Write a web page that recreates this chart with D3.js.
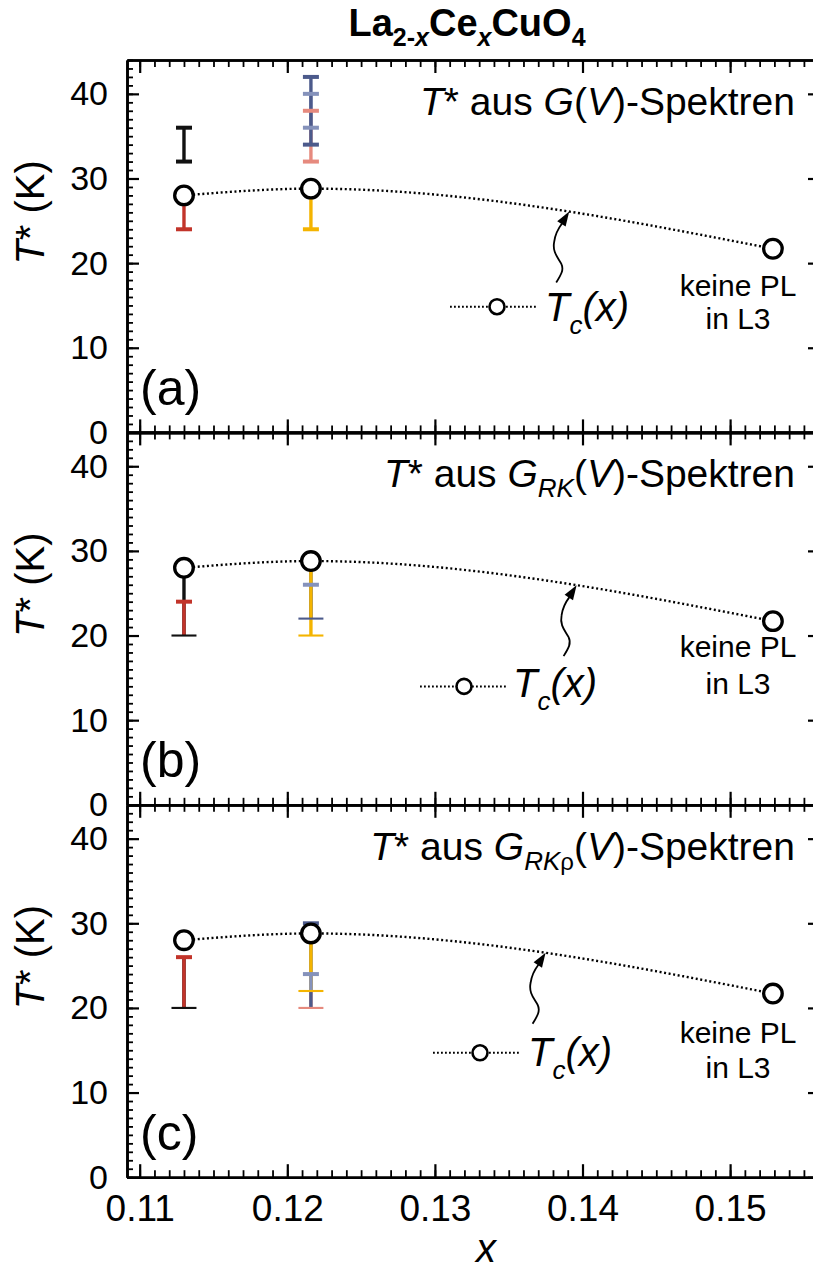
<!DOCTYPE html>
<html>
<head>
<meta charset="utf-8">
<script src="https://cdn.jsdelivr.net/npm/d3@7"></script>
<style>
  body { margin: 0; background: #fff; }
  svg { display: block; }
  text { font-family: "Liberation Sans", Arial, Helvetica, sans-serif; fill: #000; }
</style>
</head>
<body>
<svg id="chart" width="813" height="1272"></svg>
<script>
// ---- data ----
const dopings  = [0.113, 0.1216, 0.1529];   // Ce content x of the three films
const tcValues = [28.0, 28.8, 21.7];        // Tc (K)
const yTickValues = [0, 10, 20, 30, 40];
const xTickValues = [0.11, 0.12, 0.13, 0.14, 0.15];
const xTickLabels = ["0.11", "0.12", "0.13", "0.14", "0.15"];
const panelLetters = ["(a)", "(b)", "(c)"];

// T* ranges: [x, lower T*, upper T*, series, capped end]
const rangesA = [
  [0.113,  32, 36,   "black",     "both"],
  [0.113,  24, 28.0, "red",       "lo"],
  [0.1216, 24, 28.8, "yellow",    "lo"],
  [0.1216, 32, 38,   "salmon",    "both"],
  [0.1216, 36, 40,   "lightblue", "both"],
  [0.1216, 34, 42,   "darkblue",  "both"]
];
const rangesB = [
  [0.113,  20, 28.0, "black",     "lo"],
  [0.113,  20, 24,   "red",       "hi"],
  [0.1216, 22, 26,   "lightblue", "hi"],
  [0.1216, 22, 28.8, "darkblue",  "lo"],
  [0.1216, 20, 28.8, "yellow",    "lo"]
];
const rangesC = [
  [0.113,  20, 26,   "black",     "lo"],
  [0.113,  20, 26,   "red",       "hi"],
  [0.1216, 20, 22,   "salmon",    "lo"],
  [0.1216, 20, 30,   "darkblue",  "hi"],
  [0.1216, 22, 28.7, "yellow",    "lo"],
  [0.1216, 22, 24,   "lightblue", "hi"]
];
const panelRanges = [rangesA, rangesB, rangesC];

// ---- styling ----
const seriesColor = {
  black: "#111111", red: "#c2342a", yellow: "#f4b400",
  darkblue: "#4c5a8b", lightblue: "#8592bb", salmon: "#e68a7e"
};
const FONT = '"Liberation Sans", Arial, Helvetica, sans-serif';

const svg = d3.select("#chart");
const plotLeft = 127, plotRight = 820;
const firstTop = 60, panelH = 372.4;

const x = d3.scaleLinear().domain([0.10914, 0.15609]).range([plotLeft, plotRight]);
const xMinor = d3.range(109, 157).map(v => v / 1000).filter(v => x(v) >= plotLeft - 0.5 && x(v) <= plotRight + 0.5);
const yMinor = d3.range(0, 45, 1);

// per-panel annotation layout (offsets from panel top, pixels)
const layout = [
  { legY: 246.7, legX1: 450, legX2: 537, legCx: 497, legTx: 545, legTy: 260.7, arrowX: 0.1391, kY1: 236, kY2: 269 },
  { legY: 254,   legX1: 420, legX2: 507, legCx: 464, legTx: 513, legTy: 264.7, arrowX: 0.1396, kY1: 224.7, kY2: 261.3 },
  { legY: 248,   legX1: 433, legX2: 520, legCx: 480, legTx: 528, legTy: 261,   arrowX: 0.1375, kY1: 238, kY2: 273 }
];
const subscripts = [[], [["RK", true]], [["RK", true], ["ρ", false]]];

function styleAxis(g, sw) {
  g.selectAll("path.domain").attr("stroke", "#000").attr("stroke-width", 2.6);
  g.selectAll(".tick line").attr("stroke", "#000").attr("stroke-width", sw || 2);
  g.selectAll("text").attr("font-family", FONT);
}

panelRanges.forEach((ranges, i) => {
  const top = firstTop + i * panelH;
  const bottom = top + panelH;
  const y = d3.scaleLinear().domain([0, 44]).range([bottom, top]);
  const g = svg.append("g").attr("class", "panel-" + i);
  const L = layout[i];

  // axes: left (labels), right, top, bottom
  g.append("g").attr("transform", `translate(${plotLeft},0)`)
    .call(d3.axisLeft(y).tickValues(yMinor).tickSize(-6).tickSizeOuter(0).tickFormat(""))
    .call(a => styleAxis(a, 1.8));
  g.append("g").attr("transform", `translate(${plotLeft},0)`)
    .call(d3.axisLeft(y).tickValues(yTickValues).tickSize(-12).tickSizeOuter(0).tickPadding(19).tickFormat(d3.format("d")))
    .call(a => { styleAxis(a, 2.2); a.selectAll("text").attr("font-size", 34); });
  g.append("g").attr("transform", `translate(${plotRight},0)`)
    .call(d3.axisRight(y).tickValues(yTickValues).tickSize(-12).tickSizeOuter(0).tickFormat(""))
    .call(a => styleAxis(a, 2.2));

  [[top, d3.axisTop], [bottom, d3.axisBottom]].forEach(([yy, ax]) => {
    g.append("g").attr("transform", `translate(0,${yy})`)
      .call(ax(x).tickValues(xMinor).tickSize(-7).tickSizeOuter(0).tickFormat(""))
      .call(a => styleAxis(a, 1.8));
    g.append("g").attr("transform", `translate(0,${yy})`)
      .call(ax(x).tickValues(xTickValues).tickSize(-13).tickSizeOuter(0).tickPadding(18)
        .tickFormat((d, k) => (i === 2 && ax === d3.axisBottom) ? xTickLabels[k] : ""))
      .call(a => { styleAxis(a, 2.2); a.selectAll("text").attr("font-size", 37); });
  });

  // T* ranges: vertical bars first, then end caps
  const bars = g.append("g");
  ranges.forEach(([xv, lo, hi, s]) => {
    bars.append("line")
      .attr("x1", x(xv)).attr("x2", x(xv)).attr("y1", y(lo)).attr("y2", y(hi))
      .attr("stroke", seriesColor[s]).attr("stroke-width", 3.4);
  });
  ranges.forEach(([xv, lo, hi, s, capped]) => {
    const ends = capped === "both" ? [["lo", lo], ["hi", hi]] : capped === "lo" ? [["lo", lo]] : [["hi", hi]];
    ends.forEach(([end, v]) => {
      const wide = i > 0 && end === "lo";
      const w = wide ? 25 : 16;
      bars.append("line")
        .attr("x1", x(xv) - w / 2).attr("x2", x(xv) + w / 2).attr("y1", y(v)).attr("y2", y(v))
        .attr("stroke", seriesColor[s]).attr("stroke-width", wide ? 2.1 : 4);
    });
  });

  // Tc(x) curve and points
  const pts = dopings.map((d, k) => [d, tcValues[k]]);
  const curve = g.append("path")
    .attr("d", d3.line().x(d => x(d[0])).y(d => y(d[1])).curve(d3.curveMonotoneX)(pts))
    .attr("fill", "none").attr("stroke", "#000").attr("stroke-width", 2.4)
    .attr("stroke-dasharray", "2 2.6");
  g.selectAll("circle.tc").data(pts).join("circle").attr("class", "tc")
    .attr("cx", d => x(d[0])).attr("cy", d => y(d[1])).attr("r", 9.3)
    .attr("fill", "#fff").attr("stroke", "#000").attr("stroke-width", 3.3);

  // arrow pointing at the Tc curve
  const node = curve.node();
  const total = node.getTotalLength();
  const tx = x(L.arrowX);
  let a0 = 0, a1 = total;
  for (let k = 0; k < 40; k++) {
    const m = (a0 + a1) / 2;
    if (node.getPointAtLength(m).x < tx) a0 = m; else a1 = m;
  }
  const tip = node.getPointAtLength((a0 + a1) / 2);
  const arrow = g.append("g").attr("transform", `translate(${tip.x},${tip.y})`);
  arrow.append("path")
    .attr("d", "M-13,71 C-8,63 -5,58 -8,52 C-12,45 -17,40 -15,30 C-14,23 -11,17 -7.2,12")
    .attr("fill", "none").attr("stroke", "#000").attr("stroke-width", 1.8);
  arrow.append("path").attr("d", "M0,0 L-3.6,15 L-12,9.6 Z").attr("fill", "#000");

  // legend entry Tc(x)
  g.append("line").attr("x1", L.legX1).attr("x2", L.legX2)
    .attr("y1", top + L.legY).attr("y2", top + L.legY)
    .attr("stroke", "#000").attr("stroke-width", 2).attr("stroke-dasharray", "1.8 2.2");
  g.append("circle").attr("cx", L.legCx).attr("cy", top + L.legY).attr("r", 7.5)
    .attr("fill", "#fff").attr("stroke", "#000").attr("stroke-width", 2.6);
  const lt = g.append("text").attr("x", L.legTx).attr("y", top + L.legTy)
    .attr("font-size", 40).attr("font-style", "italic");
  lt.append("tspan").text("T");
  lt.append("tspan").attr("font-size", 26).attr("dy", 13).text("c");
  lt.append("tspan").attr("dy", -13).text("(x)");

  // "keine PL in L3" note beside the last point
  [["keine PL", L.kY1], ["in L3", L.kY2]].forEach(([t, dy]) => {
    g.append("text").attr("x", 738).attr("y", top + dy).attr("text-anchor", "middle")
      .attr("font-size", 30).text(t);
  });

  // panel heading
  const h = g.append("text").attr("x", 795).attr("y", top + 54.7)
    .attr("text-anchor", "end").attr("font-size", 39);
  h.append("tspan").attr("font-style", "italic").text("T");
  h.append("tspan").text("* aus ");
  h.append("tspan").attr("font-style", "italic").text("G");
  if (subscripts[i].length) {
    subscripts[i].forEach(([t, it], k) => {
      h.append("tspan").attr("font-size", it ? 26 : 24).attr("font-style", it ? "italic" : "normal")
        .attr("dy", k === 0 ? 10 : 0).text(t);
    });
    h.append("tspan").attr("dy", -10).text("(");
  } else {
    h.append("tspan").text("(");
  }
  h.append("tspan").attr("font-style", "italic").text("V");
  h.append("tspan").text(")-Spektren");

  // panel letter
  g.append("text").attr("x", 140).attr("y", bottom - 27.5).attr("font-size", 50).text(panelLetters[i]);

  // y-axis title
  const yl = g.append("text").attr("transform", `translate(44,${y(26)}) rotate(-90)`)
    .attr("text-anchor", "middle").attr("font-size", 40);
  yl.append("tspan").attr("font-style", "italic").text("T");
  yl.append("tspan").text("* (K)");
});

// chart title
const title = svg.append("text").attr("x", 467).attr("y", 36).attr("text-anchor", "middle")
  .attr("font-size", 38).attr("font-weight", "bold");
title.append("tspan").text("La");
title.append("tspan").attr("font-size", 25).attr("dy", 10).text("2-");
title.append("tspan").attr("font-size", 25).attr("font-style", "italic").text("x");
title.append("tspan").attr("dy", -10).text("Ce");
title.append("tspan").attr("font-size", 25).attr("font-style", "italic").attr("dy", 10).text("x");
title.append("tspan").attr("dy", -10).text("CuO");
title.append("tspan").attr("font-size", 25).attr("dy", 10).text("4");

// x-axis title
svg.append("text").attr("x", 486).attr("y", 1262).attr("text-anchor", "middle")
  .attr("font-size", 40).attr("font-style", "italic").text("x");
</script>
</body>
</html>
